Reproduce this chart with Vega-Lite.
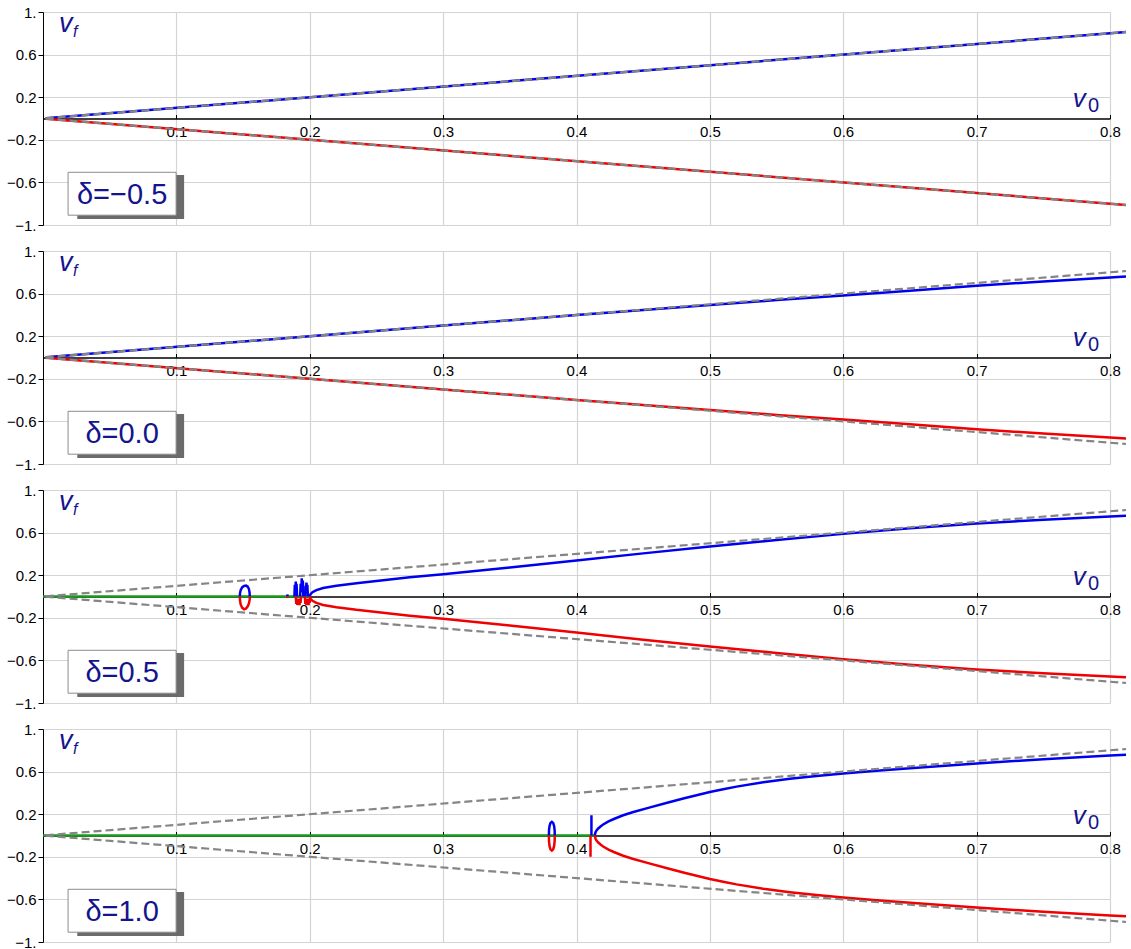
{
  "$schema": "https://vega.github.io/schema/vega-lite/v6.json",
  "background": "white",
  "padding": {"left": 6, "top": 5, "right": 0, "bottom": 0},
  "config": {"view": {"stroke": null}, "font": "Liberation Sans"},
  "data": {"values": [
    {"d":-0.5,"s":"lab","c":"lab","t":"δ=−0.5"},
    {"d":-0.5,"s":"b","c":"b","i":0,"x":0.002,"y":0.002},{"d":-0.5,"s":"b","c":"b","i":1,"x":0.812,"y":0.812},
    {"d":-0.5,"s":"r","c":"r","i":0,"x":0.002,"y":-0.002},{"d":-0.5,"s":"r","c":"r","i":1,"x":0.812,"y":-0.812},
    {"d":-0.5,"s":"k1","c":"k","i":0,"x":0.002,"y":0.002},{"d":-0.5,"s":"k1","c":"k","i":1,"x":0.812,"y":0.812},
    {"d":-0.5,"s":"k2","c":"k","i":0,"x":0.002,"y":-0.002},{"d":-0.5,"s":"k2","c":"k","i":1,"x":0.812,"y":-0.812},

    {"d":0,"s":"lab","c":"lab","t":"δ=0.0"},
    {"d":0,"s":"b","c":"b","i":0,"x":0.002,"y":0.002},{"d":0,"s":"b","c":"b","i":1,"x":0.2,"y":0.2},{"d":0,"s":"b","c":"b","i":2,"x":0.3,"y":0.3},{"d":0,"s":"b","c":"b","i":3,"x":0.4,"y":0.399},{"d":0,"s":"b","c":"b","i":4,"x":0.45,"y":0.447},{"d":0,"s":"b","c":"b","i":5,"x":0.5,"y":0.494},{"d":0,"s":"b","c":"b","i":6,"x":0.55,"y":0.539},{"d":0,"s":"b","c":"b","i":7,"x":0.6,"y":0.583},{"d":0,"s":"b","c":"b","i":8,"x":0.65,"y":0.627},{"d":0,"s":"b","c":"b","i":9,"x":0.7,"y":0.674},{"d":0,"s":"b","c":"b","i":10,"x":0.75,"y":0.714},{"d":0,"s":"b","c":"b","i":11,"x":0.8,"y":0.752},{"d":0,"s":"b","c":"b","i":12,"x":0.812,"y":0.76},
    {"d":0,"s":"r","c":"r","i":0,"x":0.002,"y":-0.002},{"d":0,"s":"r","c":"r","i":1,"x":0.2,"y":-0.2},{"d":0,"s":"r","c":"r","i":2,"x":0.3,"y":-0.3},{"d":0,"s":"r","c":"r","i":3,"x":0.4,"y":-0.399},{"d":0,"s":"r","c":"r","i":4,"x":0.45,"y":-0.447},{"d":0,"s":"r","c":"r","i":5,"x":0.5,"y":-0.494},{"d":0,"s":"r","c":"r","i":6,"x":0.55,"y":-0.539},{"d":0,"s":"r","c":"r","i":7,"x":0.6,"y":-0.583},{"d":0,"s":"r","c":"r","i":8,"x":0.65,"y":-0.627},{"d":0,"s":"r","c":"r","i":9,"x":0.7,"y":-0.674},{"d":0,"s":"r","c":"r","i":10,"x":0.75,"y":-0.714},{"d":0,"s":"r","c":"r","i":11,"x":0.8,"y":-0.752},{"d":0,"s":"r","c":"r","i":12,"x":0.812,"y":-0.76},
    {"d":0,"s":"k1","c":"k","i":0,"x":0.002,"y":0.002},{"d":0,"s":"k1","c":"k","i":1,"x":0.812,"y":0.812},
    {"d":0,"s":"k2","c":"k","i":0,"x":0.002,"y":-0.002},{"d":0,"s":"k2","c":"k","i":1,"x":0.812,"y":-0.812},

    {"d":0.5,"s":"lab","c":"lab","t":"δ=0.5"},
    {"d":0.5,"s":"g","c":"g","i":0,"x":0,"y":0},{"d":0.5,"s":"g","c":"g","i":1,"x":0.2,"y":0},
    {"d":0.5,"s":"b","c":"b","i":0,"x":0.2,"y":0},{"d":0.5,"s":"b","c":"b","i":1,"x":0.2005,"y":0.02},{"d":0.5,"s":"b","c":"b","i":2,"x":0.202,"y":0.04},{"d":0.5,"s":"b","c":"b","i":3,"x":0.205,"y":0.06},{"d":0.5,"s":"b","c":"b","i":4,"x":0.21,"y":0.08},{"d":0.5,"s":"b","c":"b","i":5,"x":0.22,"y":0.1},{"d":0.5,"s":"b","c":"b","i":6,"x":0.235,"y":0.125},{"d":0.5,"s":"b","c":"b","i":7,"x":0.25,"y":0.145},{"d":0.5,"s":"b","c":"b","i":8,"x":0.275,"y":0.18},{"d":0.5,"s":"b","c":"b","i":9,"x":0.3,"y":0.21},{"d":0.5,"s":"b","c":"b","i":10,"x":0.35,"y":0.272},{"d":0.5,"s":"b","c":"b","i":11,"x":0.4,"y":0.337},{"d":0.5,"s":"b","c":"b","i":12,"x":0.45,"y":0.405},{"d":0.5,"s":"b","c":"b","i":13,"x":0.5,"y":0.47},{"d":0.5,"s":"b","c":"b","i":14,"x":0.55,"y":0.53},{"d":0.5,"s":"b","c":"b","i":15,"x":0.6,"y":0.588},{"d":0.5,"s":"b","c":"b","i":16,"x":0.65,"y":0.64},{"d":0.5,"s":"b","c":"b","i":17,"x":0.7,"y":0.685},{"d":0.5,"s":"b","c":"b","i":18,"x":0.75,"y":0.72},{"d":0.5,"s":"b","c":"b","i":19,"x":0.8,"y":0.752},{"d":0.5,"s":"b","c":"b","i":20,"x":0.812,"y":0.758},
    {"d":0.5,"s":"r","c":"r","i":0,"x":0.2,"y":0},{"d":0.5,"s":"r","c":"r","i":1,"x":0.2005,"y":-0.02},{"d":0.5,"s":"r","c":"r","i":2,"x":0.202,"y":-0.04},{"d":0.5,"s":"r","c":"r","i":3,"x":0.205,"y":-0.06},{"d":0.5,"s":"r","c":"r","i":4,"x":0.21,"y":-0.08},{"d":0.5,"s":"r","c":"r","i":5,"x":0.22,"y":-0.1},{"d":0.5,"s":"r","c":"r","i":6,"x":0.235,"y":-0.125},{"d":0.5,"s":"r","c":"r","i":7,"x":0.25,"y":-0.145},{"d":0.5,"s":"r","c":"r","i":8,"x":0.275,"y":-0.18},{"d":0.5,"s":"r","c":"r","i":9,"x":0.3,"y":-0.21},{"d":0.5,"s":"r","c":"r","i":10,"x":0.35,"y":-0.272},{"d":0.5,"s":"r","c":"r","i":11,"x":0.4,"y":-0.337},{"d":0.5,"s":"r","c":"r","i":12,"x":0.45,"y":-0.405},{"d":0.5,"s":"r","c":"r","i":13,"x":0.5,"y":-0.47},{"d":0.5,"s":"r","c":"r","i":14,"x":0.55,"y":-0.53},{"d":0.5,"s":"r","c":"r","i":15,"x":0.6,"y":-0.588},{"d":0.5,"s":"r","c":"r","i":16,"x":0.65,"y":-0.64},{"d":0.5,"s":"r","c":"r","i":17,"x":0.7,"y":-0.685},{"d":0.5,"s":"r","c":"r","i":18,"x":0.75,"y":-0.72},{"d":0.5,"s":"r","c":"r","i":19,"x":0.8,"y":-0.752},{"d":0.5,"s":"r","c":"r","i":20,"x":0.812,"y":-0.758},
    {"d":0.5,"s":"bl","c":"b","i":0,"x":0.155,"y":0},{"d":0.5,"s":"bl","c":"b","i":1,"x":0.1549,"y":0.035},{"d":0.5,"s":"bl","c":"b","i":2,"x":0.1544,"y":0.07},{"d":0.5,"s":"bl","c":"b","i":3,"x":0.1535,"y":0.092},{"d":0.5,"s":"bl","c":"b","i":4,"x":0.1523,"y":0.102},{"d":0.5,"s":"bl","c":"b","i":5,"x":0.1508,"y":0.1},{"d":0.5,"s":"bl","c":"b","i":6,"x":0.1494,"y":0.088},{"d":0.5,"s":"bl","c":"b","i":7,"x":0.1482,"y":0.06},{"d":0.5,"s":"bl","c":"b","i":8,"x":0.1477,"y":0.03},{"d":0.5,"s":"bl","c":"b","i":9,"x":0.1476,"y":0},
    {"d":0.5,"s":"rl","c":"r","i":0,"x":0.1476,"y":0},{"d":0.5,"s":"rl","c":"r","i":1,"x":0.1477,"y":-0.035},{"d":0.5,"s":"rl","c":"r","i":2,"x":0.1482,"y":-0.075},{"d":0.5,"s":"rl","c":"r","i":3,"x":0.1493,"y":-0.105},{"d":0.5,"s":"rl","c":"r","i":4,"x":0.1508,"y":-0.12},{"d":0.5,"s":"rl","c":"r","i":5,"x":0.1523,"y":-0.112},{"d":0.5,"s":"rl","c":"r","i":6,"x":0.1536,"y":-0.09},{"d":0.5,"s":"rl","c":"r","i":7,"x":0.1545,"y":-0.06},{"d":0.5,"s":"rl","c":"r","i":8,"x":0.155,"y":-0.025},{"d":0.5,"s":"rl","c":"r","i":9,"x":0.1551,"y":0},
    {"d":0.5,"s":"bs0","c":"b","i":0,"x":0.1833,"y":0},{"d":0.5,"s":"bs0","c":"b","i":1,"x":0.1833,"y":0.02},
    {"d":0.5,"s":"rs0","c":"r","i":0,"x":0.1833,"y":0},{"d":0.5,"s":"rs0","c":"r","i":1,"x":0.1833,"y":-0.015},
    {"d":0.5,"s":"bs1","c":"b","i":0,"x":0.1885,"y":0},{"d":0.5,"s":"bs1","c":"b","i":1,"x":0.1888,"y":0.11},{"d":0.5,"s":"bs1","c":"b","i":2,"x":0.1892,"y":0.02},{"d":0.5,"s":"bs1","c":"b","i":3,"x":0.1895,"y":0.14},{"d":0.5,"s":"bs1","c":"b","i":4,"x":0.1898,"y":0.03},{"d":0.5,"s":"bs1","c":"b","i":5,"x":0.1901,"y":0.12},{"d":0.5,"s":"bs1","c":"b","i":6,"x":0.1905,"y":0},
    {"d":0.5,"s":"bs2","c":"b","i":0,"x":0.1928,"y":0},{"d":0.5,"s":"bs2","c":"b","i":1,"x":0.1932,"y":0.12},{"d":0.5,"s":"bs2","c":"b","i":2,"x":0.1936,"y":0.04},{"d":0.5,"s":"bs2","c":"b","i":3,"x":0.194,"y":0.17},{"d":0.5,"s":"bs2","c":"b","i":4,"x":0.1944,"y":0.05},{"d":0.5,"s":"bs2","c":"b","i":5,"x":0.1948,"y":0.15},{"d":0.5,"s":"bs2","c":"b","i":6,"x":0.1952,"y":0},
    {"d":0.5,"s":"bs3","c":"b","i":0,"x":0.1965,"y":0},{"d":0.5,"s":"bs3","c":"b","i":1,"x":0.1968,"y":0.1},{"d":0.5,"s":"bs3","c":"b","i":2,"x":0.1972,"y":0.03},{"d":0.5,"s":"bs3","c":"b","i":3,"x":0.1975,"y":0.13},{"d":0.5,"s":"bs3","c":"b","i":4,"x":0.1979,"y":0.04},{"d":0.5,"s":"bs3","c":"b","i":5,"x":0.1982,"y":0.11},{"d":0.5,"s":"bs3","c":"b","i":6,"x":0.1986,"y":0},
    {"d":0.5,"s":"rs1","c":"r","i":0,"x":0.1895,"y":0},{"d":0.5,"s":"rs1","c":"r","i":1,"x":0.1899,"y":-0.07},{"d":0.5,"s":"rs1","c":"r","i":2,"x":0.1903,"y":-0.02},{"d":0.5,"s":"rs1","c":"r","i":3,"x":0.1907,"y":-0.08},{"d":0.5,"s":"rs1","c":"r","i":4,"x":0.1911,"y":-0.03},{"d":0.5,"s":"rs1","c":"r","i":5,"x":0.1915,"y":-0.07},{"d":0.5,"s":"rs1","c":"r","i":6,"x":0.1919,"y":-0.02},{"d":0.5,"s":"rs1","c":"r","i":7,"x":0.1923,"y":-0.08},{"d":0.5,"s":"rs1","c":"r","i":8,"x":0.1927,"y":-0.03},{"d":0.5,"s":"rs1","c":"r","i":9,"x":0.1931,"y":-0.06},{"d":0.5,"s":"rs1","c":"r","i":10,"x":0.1935,"y":0},
    {"d":0.5,"s":"rs2","c":"r","i":0,"x":0.1963,"y":0},{"d":0.5,"s":"rs2","c":"r","i":1,"x":0.1967,"y":-0.07},{"d":0.5,"s":"rs2","c":"r","i":2,"x":0.1971,"y":-0.02},{"d":0.5,"s":"rs2","c":"r","i":3,"x":0.1975,"y":-0.08},{"d":0.5,"s":"rs2","c":"r","i":4,"x":0.1979,"y":-0.03},{"d":0.5,"s":"rs2","c":"r","i":5,"x":0.1983,"y":-0.07},{"d":0.5,"s":"rs2","c":"r","i":6,"x":0.1987,"y":-0.02},{"d":0.5,"s":"rs2","c":"r","i":7,"x":0.1991,"y":-0.08},{"d":0.5,"s":"rs2","c":"r","i":8,"x":0.1995,"y":-0.03},{"d":0.5,"s":"rs2","c":"r","i":9,"x":0.1999,"y":-0.06},{"d":0.5,"s":"rs2","c":"r","i":10,"x":0.2003,"y":0},
    {"d":0.5,"s":"k1","c":"k","i":0,"x":0.002,"y":0.002},{"d":0.5,"s":"k1","c":"k","i":1,"x":0.812,"y":0.812},
    {"d":0.5,"s":"k2","c":"k","i":0,"x":0.002,"y":-0.002},{"d":0.5,"s":"k2","c":"k","i":1,"x":0.812,"y":-0.812},

    {"d":1,"s":"lab","c":"lab","t":"δ=1.0"},
    {"d":1,"s":"g","c":"g","i":0,"x":0,"y":0},{"d":1,"s":"g","c":"g","i":1,"x":0.4137,"y":0},
    {"d":1,"s":"b","c":"b","i":0,"x":0.4137,"y":0},{"d":1,"s":"b","c":"b","i":1,"x":0.4142,"y":0.029},{"d":1,"s":"b","c":"b","i":2,"x":0.415,"y":0.047},{"d":1,"s":"b","c":"b","i":3,"x":0.4163,"y":0.066},{"d":1,"s":"b","c":"b","i":4,"x":0.418,"y":0.085},{"d":1,"s":"b","c":"b","i":5,"x":0.42,"y":0.103},{"d":1,"s":"b","c":"b","i":6,"x":0.424,"y":0.132},{"d":1,"s":"b","c":"b","i":7,"x":0.428,"y":0.155},{"d":1,"s":"b","c":"b","i":8,"x":0.435,"y":0.19},{"d":1,"s":"b","c":"b","i":9,"x":0.442,"y":0.218},{"d":1,"s":"b","c":"b","i":10,"x":0.4545,"y":0.262},{"d":1,"s":"b","c":"b","i":11,"x":0.468,"y":0.308},{"d":1,"s":"b","c":"b","i":12,"x":0.4808,"y":0.35},{"d":1,"s":"b","c":"b","i":13,"x":0.5,"y":0.408},{"d":1,"s":"b","c":"b","i":14,"x":0.51,"y":0.434},{"d":1,"s":"b","c":"b","i":15,"x":0.52,"y":0.459},{"d":1,"s":"b","c":"b","i":16,"x":0.54,"y":0.5},{"d":1,"s":"b","c":"b","i":17,"x":0.56,"y":0.532},{"d":1,"s":"b","c":"b","i":18,"x":0.58,"y":0.559},{"d":1,"s":"b","c":"b","i":19,"x":0.6,"y":0.582},{"d":1,"s":"b","c":"b","i":20,"x":0.625,"y":0.608},{"d":1,"s":"b","c":"b","i":21,"x":0.65,"y":0.632},{"d":1,"s":"b","c":"b","i":22,"x":0.7,"y":0.677},{"d":1,"s":"b","c":"b","i":23,"x":0.75,"y":0.717},{"d":1,"s":"b","c":"b","i":24,"x":0.8,"y":0.752},{"d":1,"s":"b","c":"b","i":25,"x":0.812,"y":0.759},
    {"d":1,"s":"r","c":"r","i":0,"x":0.4137,"y":0},{"d":1,"s":"r","c":"r","i":1,"x":0.4142,"y":-0.029},{"d":1,"s":"r","c":"r","i":2,"x":0.415,"y":-0.047},{"d":1,"s":"r","c":"r","i":3,"x":0.4163,"y":-0.066},{"d":1,"s":"r","c":"r","i":4,"x":0.418,"y":-0.085},{"d":1,"s":"r","c":"r","i":5,"x":0.42,"y":-0.103},{"d":1,"s":"r","c":"r","i":6,"x":0.424,"y":-0.132},{"d":1,"s":"r","c":"r","i":7,"x":0.428,"y":-0.155},{"d":1,"s":"r","c":"r","i":8,"x":0.435,"y":-0.19},{"d":1,"s":"r","c":"r","i":9,"x":0.442,"y":-0.218},{"d":1,"s":"r","c":"r","i":10,"x":0.4545,"y":-0.262},{"d":1,"s":"r","c":"r","i":11,"x":0.468,"y":-0.308},{"d":1,"s":"r","c":"r","i":12,"x":0.4808,"y":-0.35},{"d":1,"s":"r","c":"r","i":13,"x":0.5,"y":-0.408},{"d":1,"s":"r","c":"r","i":14,"x":0.51,"y":-0.434},{"d":1,"s":"r","c":"r","i":15,"x":0.52,"y":-0.459},{"d":1,"s":"r","c":"r","i":16,"x":0.54,"y":-0.5},{"d":1,"s":"r","c":"r","i":17,"x":0.56,"y":-0.532},{"d":1,"s":"r","c":"r","i":18,"x":0.58,"y":-0.559},{"d":1,"s":"r","c":"r","i":19,"x":0.6,"y":-0.582},{"d":1,"s":"r","c":"r","i":20,"x":0.625,"y":-0.608},{"d":1,"s":"r","c":"r","i":21,"x":0.65,"y":-0.632},{"d":1,"s":"r","c":"r","i":22,"x":0.7,"y":-0.677},{"d":1,"s":"r","c":"r","i":23,"x":0.75,"y":-0.717},{"d":1,"s":"r","c":"r","i":24,"x":0.8,"y":-0.752},{"d":1,"s":"r","c":"r","i":25,"x":0.812,"y":-0.759},
    {"d":1,"s":"bl","c":"b","i":0,"x":0.3837,"y":0},{"d":1,"s":"bl","c":"b","i":1,"x":0.3836,"y":0.05},{"d":1,"s":"bl","c":"b","i":2,"x":0.3832,"y":0.09},{"d":1,"s":"bl","c":"b","i":3,"x":0.3825,"y":0.118},{"d":1,"s":"bl","c":"b","i":4,"x":0.3815,"y":0.128},{"d":1,"s":"bl","c":"b","i":5,"x":0.3805,"y":0.118},{"d":1,"s":"bl","c":"b","i":6,"x":0.3798,"y":0.09},{"d":1,"s":"bl","c":"b","i":7,"x":0.3794,"y":0.05},{"d":1,"s":"bl","c":"b","i":8,"x":0.3793,"y":0},
    {"d":1,"s":"rl","c":"r","i":0,"x":0.3793,"y":0},{"d":1,"s":"rl","c":"r","i":1,"x":0.3794,"y":-0.055},{"d":1,"s":"rl","c":"r","i":2,"x":0.3798,"y":-0.1},{"d":1,"s":"rl","c":"r","i":3,"x":0.3805,"y":-0.13},{"d":1,"s":"rl","c":"r","i":4,"x":0.3815,"y":-0.142},{"d":1,"s":"rl","c":"r","i":5,"x":0.3825,"y":-0.13},{"d":1,"s":"rl","c":"r","i":6,"x":0.3832,"y":-0.1},{"d":1,"s":"rl","c":"r","i":7,"x":0.3836,"y":-0.055},{"d":1,"s":"rl","c":"r","i":8,"x":0.3837,"y":0},
    {"d":1,"s":"bs","c":"b","i":0,"x":0.4112,"y":0},{"d":1,"s":"bs","c":"b","i":1,"x":0.4112,"y":0.19},
    {"d":1,"s":"rs","c":"r","i":0,"x":0.4105,"y":0},{"d":1,"s":"rs","c":"r","i":1,"x":0.4105,"y":-0.2},
    {"d":1,"s":"k1","c":"k","i":0,"x":0.002,"y":0.002},{"d":1,"s":"k1","c":"k","i":1,"x":0.812,"y":0.812},
    {"d":1,"s":"k2","c":"k","i":0,"x":0.002,"y":-0.002},{"d":1,"s":"k2","c":"k","i":1,"x":0.812,"y":-0.812}
  ]},
  "facet": {"row": {"field": "d", "type": "ordinal", "header": null}},
  "spacing": {"row": 11},
  "resolve": {"axis": {"x": "independent", "y": "independent"}},
  "spec": {
    "width": 1067,
    "height": 213,
    "layer": [
      {
        "transform": [{"filter": "datum.c=='g'"}],
        "mark": {"type": "line", "color": "#1a9a1a", "strokeWidth": 2.5, "clip": false},
        "encoding": {
          "x": {"field": "x", "type": "quantitative", "scale": {"domain": [0, 0.8], "nice": false, "zero": false},
            "axis": {"values": [0.1,0.2,0.3,0.4,0.5,0.6,0.7,0.8], "format": ".1f", "title": null, "offset": -106.5,
              "domainColor": "black", "domainWidth": 1.3, "tickColor": "black", "tickSize": -4, "labelPadding": 10,
              "grid": true, "gridColor": "#d4d4d4", "gridWidth": 1.2,
              "labelFont": "Liberation Sans", "labelFontSize": 15, "labelColor": "black", "labelAngle": 0, "labelFlush": false, "labelOverlap": false}},
          "y": {"field": "y", "type": "quantitative", "scale": {"domain": [-1, 1], "nice": false, "zero": false},
            "axis": {"values": [-1,-0.8,-0.6,-0.4,-0.2,0,0.2,0.4,0.6,0.8,1], "title": null,
              "labelExpr": "datum.value==1?'1.':datum.value==-1?'−1.':indexof([0.6,0.2,-0.2,-0.6],datum.value)>=0?replace(format(datum.value,'.1f'),'-','−'):''",
              "tickOpacity": {"condition": {"test": "indexof([1,0.6,0.2,-0.2,-0.6,-1],datum.value)>=0", "value": 1}, "value": 0},
              "domainColor": "black", "tickColor": "black", "tickSize": 5, "labelPadding": 2,
              "grid": true, "gridColor": "#d4d4d4", "gridWidth": 1.2,
              "labelFont": "Liberation Sans", "labelFontSize": 15, "labelColor": "black", "labelOverlap": false, "labelFlush": false}},
          "detail": {"field": "s"},
          "order": {"field": "i", "type": "quantitative"}
        }
      },
      {
        "transform": [{"filter": "datum.c=='b'||datum.c=='r'"}],
        "mark": {"type": "line", "strokeWidth": 2.5, "clip": false},
        "encoding": {
          "x": {"field": "x", "type": "quantitative"},
          "y": {"field": "y", "type": "quantitative"},
          "color": {"field": "c", "type": "nominal", "scale": {"domain": ["b", "r"], "range": ["#0000f0", "#f00000"]}, "legend": null},
          "detail": {"field": "s"},
          "order": {"field": "i", "type": "quantitative"}
        }
      },
      {
        "transform": [{"filter": "datum.c=='k'"}],
        "mark": {"type": "line", "color": "#858585", "strokeWidth": 2.2, "strokeDash": [8, 4], "clip": false},
        "encoding": {
          "x": {"field": "x", "type": "quantitative"},
          "y": {"field": "y", "type": "quantitative"},
          "detail": {"field": "s"},
          "order": {"field": "i", "type": "quantitative"}
        }
      },
      {
        "transform": [{"filter": "datum.c=='lab'"}],
        "mark": {"type": "rect", "fill": "#6b6b6b"},
        "encoding": {
          "x": {"datum": 0.0257, "type": "quantitative"}, "x2": {"datum": 0.1058},
          "y": {"datum": -0.53, "type": "quantitative"}, "y2": {"datum": -0.944}
        }
      },
      {
        "transform": [{"filter": "datum.c=='lab'"}],
        "mark": {"type": "rect", "fill": "white", "stroke": "#8c8c8c", "strokeWidth": 1},
        "encoding": {
          "x": {"datum": 0.0188, "type": "quantitative"}, "x2": {"datum": 0.0998},
          "y": {"datum": -0.505, "type": "quantitative"}, "y2": {"datum": -0.908}
        }
      },
      {
        "transform": [{"filter": "datum.c=='lab'"}],
        "mark": {"type": "text", "font": "Liberation Sans", "fontSize": 29, "color": "#14148c", "align": "center", "baseline": "alphabetic"},
        "encoding": {
          "x": {"datum": 0.0593, "type": "quantitative"},
          "y": {"datum": -0.8, "type": "quantitative"},
          "text": {"field": "t"}
        }
      },
      {
        "transform": [{"filter": "datum.c=='lab'"}],
        "mark": {"type": "text", "text": "v", "font": "Liberation Sans", "fontStyle": "italic", "fontSize": 27, "color": "#14148c", "align": "left", "baseline": "alphabetic"},
        "encoding": {
          "x": {"datum": 0.012, "type": "quantitative"},
          "y": {"datum": 0.81, "type": "quantitative"}
        }
      },
      {
        "transform": [{"filter": "datum.c=='lab'"}],
        "mark": {"type": "text", "text": "f", "font": "Liberation Sans", "fontStyle": "italic", "fontSize": 16, "color": "#14148c", "align": "left", "baseline": "alphabetic"},
        "encoding": {
          "x": {"datum": 0.0225, "type": "quantitative"},
          "y": {"datum": 0.765, "type": "quantitative"}
        }
      },
      {
        "transform": [{"filter": "datum.c=='lab'"}],
        "mark": {"type": "text", "text": "v", "font": "Liberation Sans", "fontStyle": "italic", "fontSize": 26, "color": "#14148c", "align": "left", "baseline": "alphabetic"},
        "encoding": {
          "x": {"datum": 0.772, "type": "quantitative"},
          "y": {"datum": 0.108, "type": "quantitative"}
        }
      },
      {
        "transform": [{"filter": "datum.c=='lab'"}],
        "mark": {"type": "text", "text": "0", "font": "Liberation Sans", "fontSize": 20, "color": "#14148c", "align": "left", "baseline": "alphabetic"},
        "encoding": {
          "x": {"datum": 0.7835, "type": "quantitative"},
          "y": {"datum": 0.06, "type": "quantitative"}
        }
      }
    ]
  }
}
